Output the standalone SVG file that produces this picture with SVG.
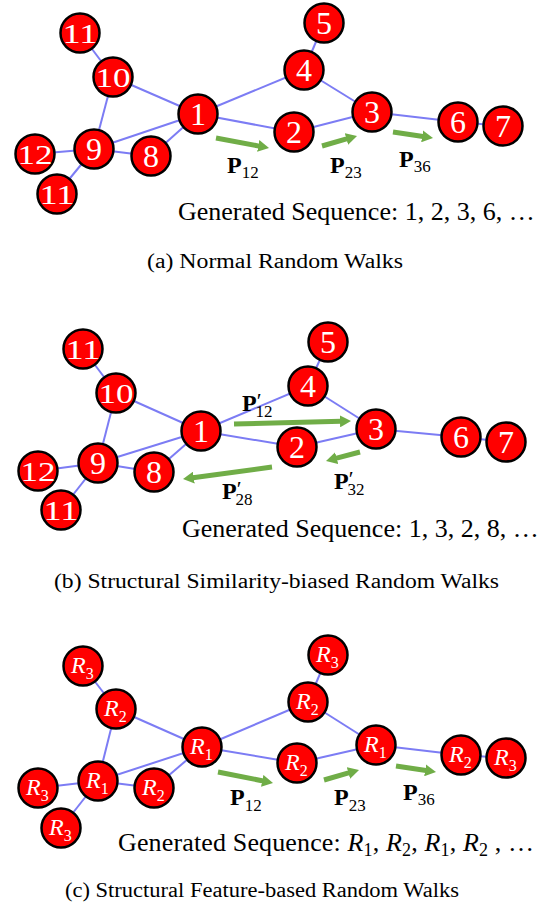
<svg xmlns="http://www.w3.org/2000/svg" width="549" height="915" viewBox="0 0 549 915">
<style>
.e{stroke:#7c7cf4;stroke-width:2;fill:none}
.nd circle{fill:#ff0000;stroke:#000;stroke-width:2.5}
.nd text{fill:#fff;font-family:'Liberation Serif','Times New Roman','DejaVu Serif',serif;text-anchor:middle}
.d1{font-size:32px}
.d2{font-size:28px}
.nd .r{font-family:'Liberation Serif','Times New Roman','DejaVu Serif',serif;font-size:24px;font-style:italic;fill:#fff;text-anchor:start}
.rs{font-size:16px;font-style:normal}
.arr{stroke:#70ad47;stroke-width:5;fill:none;marker-end:url(#ah)}
.pl{font-family:'Liberation Serif','Times New Roman','DejaVu Serif',serif;font-size:24px;font-weight:bold;fill:#000}
.sb{font-size:17px;font-weight:normal}
.pr{font-size:22px;font-weight:normal}
.seq{font-family:'Liberation Serif','Times New Roman','DejaVu Serif',serif;font-size:26px;fill:#000}
.cap{font-family:'Liberation Serif','Times New Roman','DejaVu Serif',serif;font-size:20px;fill:#000}
</style>
<defs>
<marker id="ah" viewBox="0 0 11 12" markerWidth="11" markerHeight="12" refX="1" refY="6" orient="auto" markerUnits="userSpaceOnUse">
<path d="M0,0 L11,6 L0,12 z" fill="#70ad47"/>
</marker>
</defs>

<!-- Panel (a) -->
<g id="edges-a">
<line class="e" x1="80" y1="33" x2="113" y2="77"/>
<line class="e" x1="113" y1="77" x2="198" y2="114"/>
<line class="e" x1="113" y1="77" x2="94" y2="149"/>
<line class="e" x1="94" y1="149" x2="198" y2="114"/>
<line class="e" x1="94" y1="149" x2="151" y2="156"/>
<line class="e" x1="151" y1="156" x2="198" y2="114"/>
<line class="e" x1="94" y1="149" x2="35" y2="154"/>
<line class="e" x1="94" y1="149" x2="57" y2="194"/>
<line class="e" x1="198" y1="114" x2="304" y2="70"/>
<line class="e" x1="198" y1="114" x2="294" y2="132"/>
<line class="e" x1="304" y1="70" x2="324" y2="23"/>
<line class="e" x1="304" y1="70" x2="372" y2="112"/>
<line class="e" x1="294" y1="132" x2="372" y2="112"/>
<line class="e" x1="372" y1="112" x2="458" y2="122"/>
<line class="e" x1="458" y1="122" x2="503" y2="126"/>
</g>
<g id="a-n11t" class="nd"><circle cx="80" cy="33" r="19.5"/><text class="d2" x="80" y="43" textLength="35" lengthAdjust="spacingAndGlyphs">11</text></g>
<g id="a-n10" class="nd"><circle cx="113" cy="77" r="19.5"/><text class="d2" x="113" y="87" textLength="35" lengthAdjust="spacingAndGlyphs">10</text></g>
<g id="a-n1" class="nd"><circle cx="198" cy="114" r="19.5"/><text class="d1" x="198" y="125">1</text></g>
<g id="a-n9" class="nd"><circle cx="94" cy="149" r="19.5"/><text class="d1" x="94" y="160">9</text></g>
<g id="a-n8" class="nd"><circle cx="151" cy="156" r="19.5"/><text class="d1" x="151" y="167">8</text></g>
<g id="a-n12" class="nd"><circle cx="35" cy="154" r="19.5"/><text class="d2" x="35" y="164" textLength="35" lengthAdjust="spacingAndGlyphs">12</text></g>
<g id="a-n11b" class="nd"><circle cx="57" cy="194" r="19.5"/><text class="d2" x="57" y="204" textLength="35" lengthAdjust="spacingAndGlyphs">11</text></g>
<g id="a-n5" class="nd"><circle cx="324" cy="23" r="19.5"/><text class="d1" x="324" y="34">5</text></g>
<g id="a-n4" class="nd"><circle cx="304" cy="70" r="19.5"/><text class="d1" x="304" y="81">4</text></g>
<g id="a-n3" class="nd"><circle cx="372" cy="112" r="19.5"/><text class="d1" x="372" y="123">3</text></g>
<g id="a-n2" class="nd"><circle cx="294" cy="132" r="19.5"/><text class="d1" x="294" y="143">2</text></g>
<g id="a-n6" class="nd"><circle cx="458" cy="122" r="19.5"/><text class="d1" x="458" y="133">6</text></g>
<g id="a-n7" class="nd"><circle cx="503" cy="126" r="19.5"/><text class="d1" x="503" y="137">7</text></g>
<g id="arrows-a">
<line class="arr" x1="216" y1="138" x2="259.2" y2="146.1"/>
<line class="arr" x1="322" y1="146" x2="347.4" y2="138.7"/>
<line class="arr" x1="393" y1="132" x2="423.1" y2="136.5"/>
</g>
<g id="labels-a">
<text class="pl" x="227" y="173">P<tspan class="sb" dy="5">12</tspan></text>
<text class="pl" x="330" y="173">P<tspan class="sb" dy="5">23</tspan></text>
<text class="pl" x="399" y="167">P<tspan class="sb" dy="5">36</tspan></text>
<text class="seq" x="178" y="220">Generated Sequence: 1, 2, 3, 6, …</text>
<text class="cap" x="147" y="268" textLength="256" lengthAdjust="spacingAndGlyphs">(a) Normal Random Walks</text>
</g>

<!-- Panel (b) -->
<g id="edges-b">
<line class="e" x1="83" y1="349" x2="116" y2="393"/>
<line class="e" x1="116" y1="393" x2="201" y2="431"/>
<line class="e" x1="116" y1="393" x2="98" y2="463"/>
<line class="e" x1="98" y1="463" x2="201" y2="431"/>
<line class="e" x1="98" y1="463" x2="154" y2="472"/>
<line class="e" x1="154" y1="472" x2="201" y2="431"/>
<line class="e" x1="98" y1="463" x2="38" y2="471"/>
<line class="e" x1="98" y1="463" x2="61" y2="510"/>
<line class="e" x1="201" y1="431" x2="308" y2="386"/>
<line class="e" x1="201" y1="431" x2="297" y2="447"/>
<line class="e" x1="308" y1="386" x2="328" y2="342"/>
<line class="e" x1="308" y1="386" x2="376" y2="429"/>
<line class="e" x1="297" y1="447" x2="376" y2="429"/>
<line class="e" x1="376" y1="429" x2="461" y2="437"/>
<line class="e" x1="461" y1="437" x2="506" y2="442"/>
</g>
<g id="b-n11t" class="nd"><circle cx="83" cy="349" r="19.5"/><text class="d2" x="83" y="359" textLength="35" lengthAdjust="spacingAndGlyphs">11</text></g>
<g id="b-n10" class="nd"><circle cx="116" cy="393" r="19.5"/><text class="d2" x="116" y="403" textLength="35" lengthAdjust="spacingAndGlyphs">10</text></g>
<g id="b-n1" class="nd"><circle cx="201" cy="431" r="19.5"/><text class="d1" x="201" y="442">1</text></g>
<g id="b-n9" class="nd"><circle cx="98" cy="463" r="19.5"/><text class="d1" x="98" y="474">9</text></g>
<g id="b-n8" class="nd"><circle cx="154" cy="472" r="19.5"/><text class="d1" x="154" y="483">8</text></g>
<g id="b-n12" class="nd"><circle cx="38" cy="471" r="19.5"/><text class="d2" x="38" y="481" textLength="35" lengthAdjust="spacingAndGlyphs">12</text></g>
<g id="b-n11b" class="nd"><circle cx="61" cy="510" r="19.5"/><text class="d2" x="61" y="520" textLength="35" lengthAdjust="spacingAndGlyphs">11</text></g>
<g id="b-n5" class="nd"><circle cx="328" cy="342" r="19.5"/><text class="d1" x="328" y="353">5</text></g>
<g id="b-n4" class="nd"><circle cx="308" cy="386" r="19.5"/><text class="d1" x="308" y="397">4</text></g>
<g id="b-n3" class="nd"><circle cx="376" cy="429" r="19.5"/><text class="d1" x="376" y="440">3</text></g>
<g id="b-n2" class="nd"><circle cx="297" cy="447" r="19.5"/><text class="d1" x="297" y="458">2</text></g>
<g id="b-n6" class="nd"><circle cx="461" cy="437" r="19.5"/><text class="d1" x="461" y="448">6</text></g>
<g id="b-n7" class="nd"><circle cx="506" cy="442" r="19.5"/><text class="d1" x="506" y="453">7</text></g>
<g id="arrows-b">
<line class="arr" x1="234" y1="424" x2="341" y2="421.3"/>
<line class="arr" x1="360" y1="452" x2="335.7" y2="458.4"/>
<line class="arr" x1="272" y1="467" x2="192.9" y2="477.7"/>
</g>
<g id="labels-b">
<text class="pl" x="242" y="411">P<tspan class="pr" dy="-3">′</tspan><tspan class="sb" dx="-6" dy="9">12</tspan></text>
<text class="pl" x="222" y="499">P<tspan class="pr" dy="-3">′</tspan><tspan class="sb" dx="-6" dy="9">28</tspan></text>
<text class="pl" x="334" y="489">P<tspan class="pr" dy="-3">′</tspan><tspan class="sb" dx="-6" dy="9">32</tspan></text>
<text class="seq" x="182" y="537">Generated Sequence: 1, 3, 2, 8, …</text>
<text class="cap" x="54" y="588" textLength="445" lengthAdjust="spacingAndGlyphs">(b) Structural Similarity-biased Random Walks</text>
</g>

<!-- Panel (c) -->
<g id="edges-c">
<line class="e" x1="83" y1="666" x2="116" y2="709"/>
<line class="e" x1="116" y1="709" x2="202" y2="747"/>
<line class="e" x1="116" y1="709" x2="98" y2="781"/>
<line class="e" x1="98" y1="781" x2="202" y2="747"/>
<line class="e" x1="98" y1="781" x2="154" y2="788"/>
<line class="e" x1="154" y1="788" x2="202" y2="747"/>
<line class="e" x1="98" y1="781" x2="38" y2="788"/>
<line class="e" x1="98" y1="781" x2="61" y2="828"/>
<line class="e" x1="202" y1="747" x2="308" y2="702"/>
<line class="e" x1="202" y1="747" x2="297" y2="763"/>
<line class="e" x1="308" y1="702" x2="328" y2="655"/>
<line class="e" x1="308" y1="702" x2="376" y2="745"/>
<line class="e" x1="297" y1="763" x2="376" y2="745"/>
<line class="e" x1="376" y1="745" x2="461" y2="755"/>
<line class="e" x1="461" y1="755" x2="506" y2="758"/>
</g>
<g id="c-r3t" class="nd"><circle cx="83" cy="666" r="19.5"/><text class="r" x="71" y="673">R<tspan class="rs" dy="6">3</tspan></text></g>
<g id="c-r2a" class="nd"><circle cx="116" cy="709" r="19.5"/><text class="r" x="104" y="716">R<tspan class="rs" dy="6">2</tspan></text></g>
<g id="c-r1c" class="nd"><circle cx="202" cy="747" r="19.5"/><text class="r" x="190" y="754">R<tspan class="rs" dy="6">1</tspan></text></g>
<g id="c-r1l" class="nd"><circle cx="98" cy="781" r="19.5"/><text class="r" x="86" y="788">R<tspan class="rs" dy="6">1</tspan></text></g>
<g id="c-r2l" class="nd"><circle cx="154" cy="788" r="19.5"/><text class="r" x="142" y="795">R<tspan class="rs" dy="6">2</tspan></text></g>
<g id="c-r3l" class="nd"><circle cx="38" cy="788" r="19.5"/><text class="r" x="26" y="795">R<tspan class="rs" dy="6">3</tspan></text></g>
<g id="c-r3b" class="nd"><circle cx="61" cy="828" r="19.5"/><text class="r" x="49" y="835">R<tspan class="rs" dy="6">3</tspan></text></g>
<g id="c-r3top" class="nd"><circle cx="328" cy="655" r="19.5"/><text class="r" x="316" y="662">R<tspan class="rs" dy="6">3</tspan></text></g>
<g id="c-r2top" class="nd"><circle cx="308" cy="702" r="19.5"/><text class="r" x="296" y="709">R<tspan class="rs" dy="6">2</tspan></text></g>
<g id="c-r1r" class="nd"><circle cx="376" cy="745" r="19.5"/><text class="r" x="364" y="752">R<tspan class="rs" dy="6">1</tspan></text></g>
<g id="c-r2m" class="nd"><circle cx="297" cy="763" r="19.5"/><text class="r" x="285" y="770">R<tspan class="rs" dy="6">2</tspan></text></g>
<g id="c-r2r" class="nd"><circle cx="461" cy="755" r="19.5"/><text class="r" x="449" y="762">R<tspan class="rs" dy="6">2</tspan></text></g>
<g id="c-r3r" class="nd"><circle cx="506" cy="758" r="19.5"/><text class="r" x="494" y="765">R<tspan class="rs" dy="6">3</tspan></text></g>
<g id="arrows-c">
<line class="arr" x1="218" y1="772" x2="263.2" y2="781"/>
<line class="arr" x1="324" y1="780" x2="349.4" y2="772.7"/>
<line class="arr" x1="396" y1="766" x2="426.1" y2="770.5"/>
</g>
<g id="labels-c">
<text class="pl" x="230" y="805">P<tspan class="sb" dy="6">12</tspan></text>
<text class="pl" x="334" y="805">P<tspan class="sb" dy="6">23</tspan></text>
<text class="pl" x="403" y="800">P<tspan class="sb" dy="5">36</tspan></text>
<text class="seq" x="118" y="851" textLength="416" lengthAdjust="spacing">Generated Sequence: <tspan font-style="italic">R</tspan><tspan font-size="18" dy="5">1</tspan><tspan dy="-5">, </tspan><tspan font-style="italic">R</tspan><tspan font-size="18" dy="5">2</tspan><tspan dy="-5">, </tspan><tspan font-style="italic">R</tspan><tspan font-size="18" dy="5">1</tspan><tspan dy="-5">, </tspan><tspan font-style="italic">R</tspan><tspan font-size="18" dy="5">2</tspan><tspan dy="-5"> , …</tspan></text>
<text class="cap" x="65" y="897" textLength="394" lengthAdjust="spacingAndGlyphs">(c) Structural Feature-based Random Walks</text>
</g>
</svg>
